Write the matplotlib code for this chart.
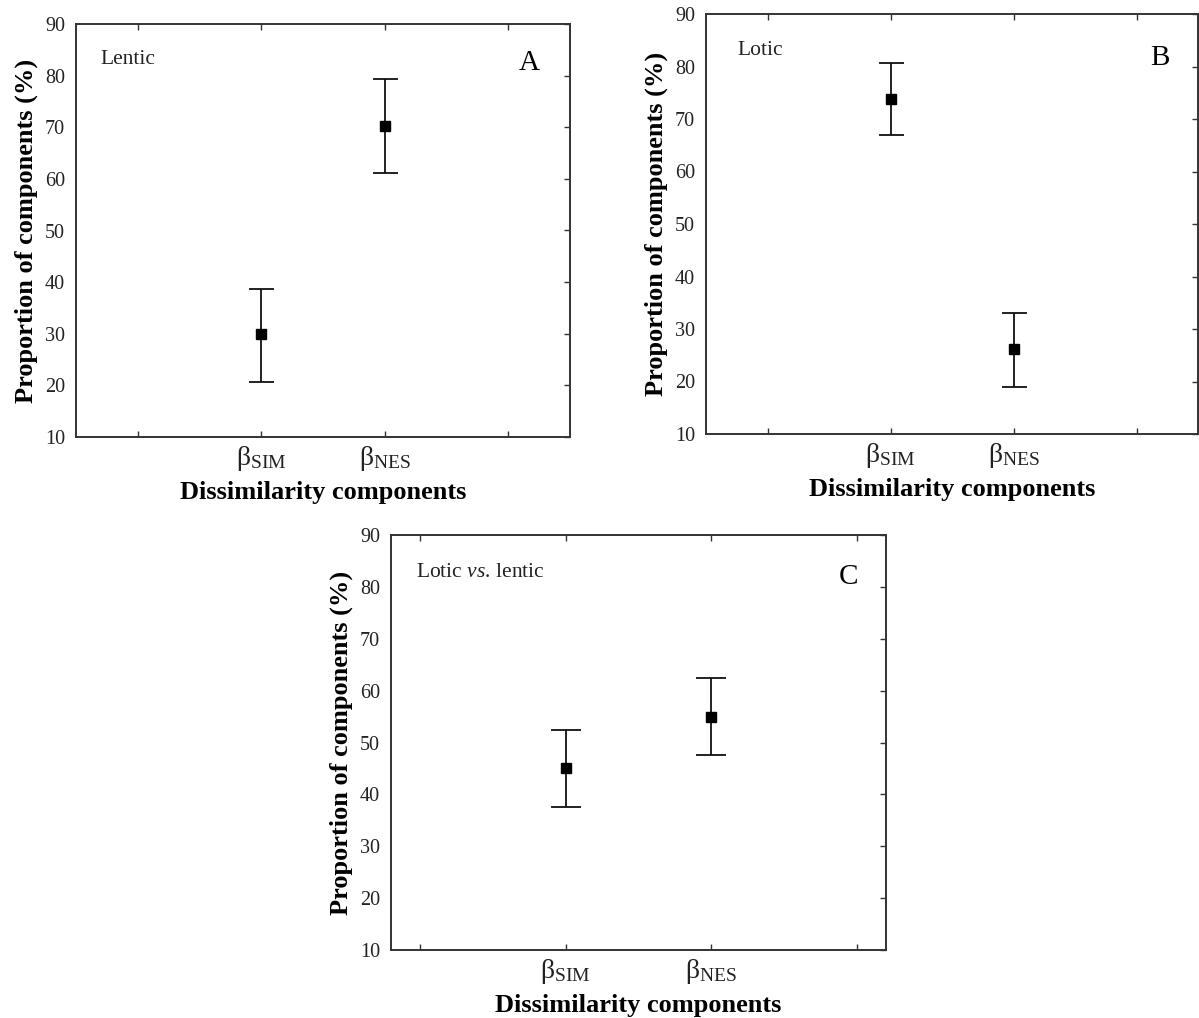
import matplotlib
matplotlib.use("Agg")
import matplotlib.pyplot as plt

plt.rcParams['font.family'] = ['Liberation Serif', 'DejaVu Serif']
plt.rcParams['mathtext.fontset'] = 'custom'
plt.rcParams['mathtext.rm'] = 'Liberation Serif'
plt.rcParams['mathtext.it'] = 'Liberation Serif:italic'
plt.rcParams['mathtext.bf'] = 'Liberation Serif:bold'

# ---- data ----
categories = [r'$\mathrm{\beta}_{\mathrm{SIM}}$', r'$\mathrm{\beta}_{\mathrm{NES}}$']
cat_pos = [2, 3]
tick_pos = [1, 2, 3, 4]
y_ticks = [10, 20, 30, 40, 50, 60, 70, 80, 90]

lentic_mean = [30.0, 70.2]
lentic_low = [20.7, 61.2]
lentic_high = [38.7, 79.3]

lotic_mean = [73.9, 26.2]
lotic_low = [66.9, 18.9]
lotic_high = [80.7, 33.0]

both_mean = [45.1, 55.0]
both_low = [37.6, 47.5]
both_high = [52.5, 62.4]

panel_titles = ['Lentic', 'Lotic', r'$\mathrm{Lotic\ }\mathit{vs.}\!\mathrm{\ lentic}$']
panel_letters = ['A', 'B', 'C']

# ---- figure ----
W, H = 1199, 1018
fig = plt.figure(figsize=(W / 100, H / 100), dpi=100)


def box(l, r, t, b):
    return [l / W, 1 - b / H, (r - l) / W, (b - t) / H]


panels = [
    dict(rect=box(76, 570, 24, 437), mean=lentic_mean, low=lentic_low, high=lentic_high,
         xlim=(0.5, 4.5), cap=9, title_xy=(0.05, 0.915), letter_xy=(0.917, 0.905)),
    dict(rect=box(706, 1198, 14, 434), mean=lotic_mean, low=lotic_low, high=lotic_high,
         xlim=(0.5, 4.5), cap=9, title_xy=(0.063, 0.912), letter_xy=(0.923, 0.895)),
    dict(rect=box(391, 886, 535, 950), mean=both_mean, low=both_low, high=both_high,
         xlim=(0.8, 4.2), cap=11, title_xy=(0.05, 0.91), letter_xy=(0.925, 0.9)),
]

for i, p in enumerate(panels):
    ax = fig.add_axes(p['rect'])
    yerr = [[m - lo for m, lo in zip(p['mean'], p['low'])],
            [hi - m for m, hi in zip(p['mean'], p['high'])]]
    ax.errorbar(cat_pos, p['mean'], yerr=yerr, fmt='s', color='black',
                ecolor='#111111', elinewidth=1.3, capsize=p['cap'], capthick=1.3,
                markersize=7.5, markerfacecolor='black', markeredgecolor='black')
    ax.set_xlim(*p['xlim'])
    ax.set_ylim(10, 90)
    ax.set_yticks(y_ticks)
    ax.set_xticks(tick_pos)
    ax.set_xticklabels([''] + categories + [''], fontsize=20)
    ax.tick_params(axis='y', labelsize=14.5, direction='in', length=4, width=1,
                   left=False, right=True, pad=8, colors='#333333', labelcolor='#222222')
    ax.tick_params(axis='x', direction='in', length=4, width=1, top=True,
                   pad=5, colors='#333333', labelcolor='#222222')
    for s in ax.spines.values():
        s.set_linewidth(1.4)
        s.set_color('#333333')
    ax.set_ylabel('Proportion of components (%)', fontsize=19, fontweight='bold',
                  labelpad=5)
    ax.set_xlabel('Dissimilarity components', fontsize=19, fontweight='bold',
                  labelpad=6)
    ax.text(p['title_xy'][0], p['title_xy'][1], panel_titles[i], transform=ax.transAxes,
            fontsize=15.5, ha='left', va='center', color='#222222')
    ax.text(p['letter_xy'][0], p['letter_xy'][1], panel_letters[i], transform=ax.transAxes,
            fontsize=21, ha='center', va='center', color='black')

fig.savefig('out.png', dpi=100, facecolor='white')
